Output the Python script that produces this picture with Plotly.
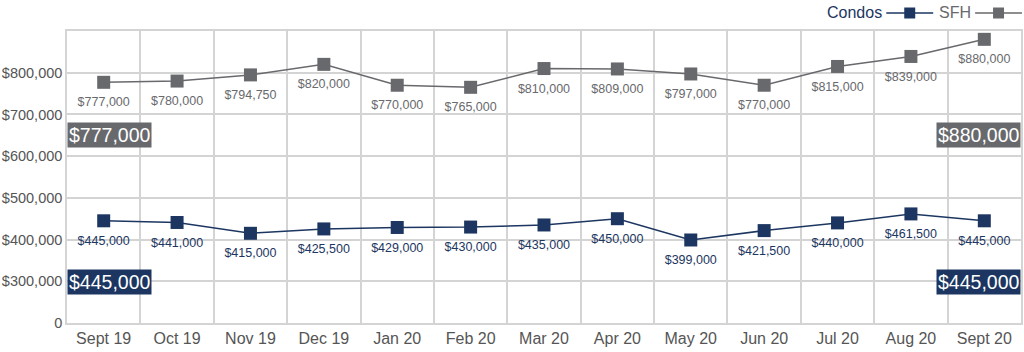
import plotly.graph_objects as go

months = ["Sept 19", "Oct 19", "Nov 19", "Dec 19", "Jan 20", "Feb 20", "Mar 20",
          "Apr 20", "May 20", "Jun 20", "Jul 20", "Aug 20", "Sept 20"]
sfh = [777000, 780000, 794750, 820000, 770000, 765000, 810000,
       809000, 797000, 770000, 815000, 839000, 880000]
condos = [445000, 441000, 415000, 425500, 429000, 430000, 435000,
          450000, 399000, 421500, 440000, 461500, 445000]
ytick_vals = [200000, 300000, 400000, 500000, 600000, 700000, 800000, 900000]
ytick_text = ["0", "$300,000", "$400,000", "$500,000", "$600,000", "$700,000", "$800,000", ""]

NAVY = "#1c3661"
GRAY = "#68696d"
GRID = "#d4d4d4"
FONT = "Liberation Sans, Arial, sans-serif"

def money(v):
    return "${:,}".format(v)

fig = go.Figure()
for name, vals, col in [("SFH", sfh, GRAY), ("Condos", condos, NAVY)]:
    fig.add_trace(go.Scatter(
        x=months, y=vals, name=name, mode="lines+markers",
        line=dict(color=col, width=1.5),
        marker=dict(symbol="square", size=13, color=col),
        showlegend=False, hoverinfo="x+y",
    ))
    # value labels (invisible larger marker just to offset text a bit more)
    fig.add_trace(go.Scatter(
        x=months, y=vals, mode="markers+text",
        marker=dict(symbol="square", size=22, color="rgba(0,0,0,0)"),
        text=[money(v) for v in vals], textposition="bottom center",
        textfont=dict(size=12.5, color=col, family=FONT),
        showlegend=False, hoverinfo="skip",
    ))

W, H = 1024, 352
pl, pr, pt, pb = 67, 1, 31, 29
pw, ph = W - pl - pr, H - pt - pb
def px(x):
    return (x - pl) / pw
def py(y):
    return (H - pb - y) / ph

# first / last value boxes
for vals, col, ypos in [(sfh, GRAY, py(134.5)), (condos, NAVY, py(281.5))]:
    for xp, anchor, v in [(0, "left", vals[0]), (1, "right", vals[-1])]:
        fig.add_annotation(x=xp, y=ypos, xref="paper", yref="paper",
                           xanchor=anchor, yanchor="middle", showarrow=False,
                           text=money(v), bgcolor=col, borderpad=1,
                           font=dict(size=19.5, color="white", family=FONT))

# manual legend (text before symbol)
legend_items = [("Condos", NAVY, 888, 935), ("SFH", GRAY, 977, 1024)]
for name, col, x0, x1 in legend_items:
    fig.add_annotation(x=px(x0 - 2), y=py(13), xref="paper", yref="paper", showarrow=False,
                       text=name, xanchor="right", yanchor="middle",
                       font=dict(size=16, color=col, family=FONT))
    fig.add_shape(type="line", xref="paper", yref="paper", x0=px(x0), x1=px(x1),
                  y0=py(13), y1=py(13), line=dict(color=col, width=1.5))
    cx = (x0 + x1) / 2
    fig.add_shape(type="rect", xref="paper", yref="paper", x0=px(cx - 5.5), x1=px(cx + 5.5),
                  y0=py(18.5), y1=py(7.5), fillcolor=col, line=dict(width=0))

fig.update_layout(
    width=W, height=H,
    margin=dict(l=pl, r=pr, t=pt, b=pb),
    paper_bgcolor="white", plot_bgcolor="white",
    font=dict(family=FONT, color="#555"),
    xaxis=dict(type="category", tickson="boundaries", showgrid=True, gridcolor=GRID,
               gridwidth=1.5, showline=True, mirror=True, linecolor=GRID, linewidth=1.5,
               ticks="", tickfont=dict(size=16, color="#555"), range=[-0.5, 12.5]),
    yaxis=dict(range=[200000, 900000], tickvals=ytick_vals, ticktext=ytick_text,
               showgrid=True, gridcolor=GRID, gridwidth=1.5, showline=True, mirror=True,
               linecolor=GRID, linewidth=1.5, zeroline=False, ticks="",
               tickfont=dict(size=14.5, color="#555")),
)

fig.write_html("out.html")
